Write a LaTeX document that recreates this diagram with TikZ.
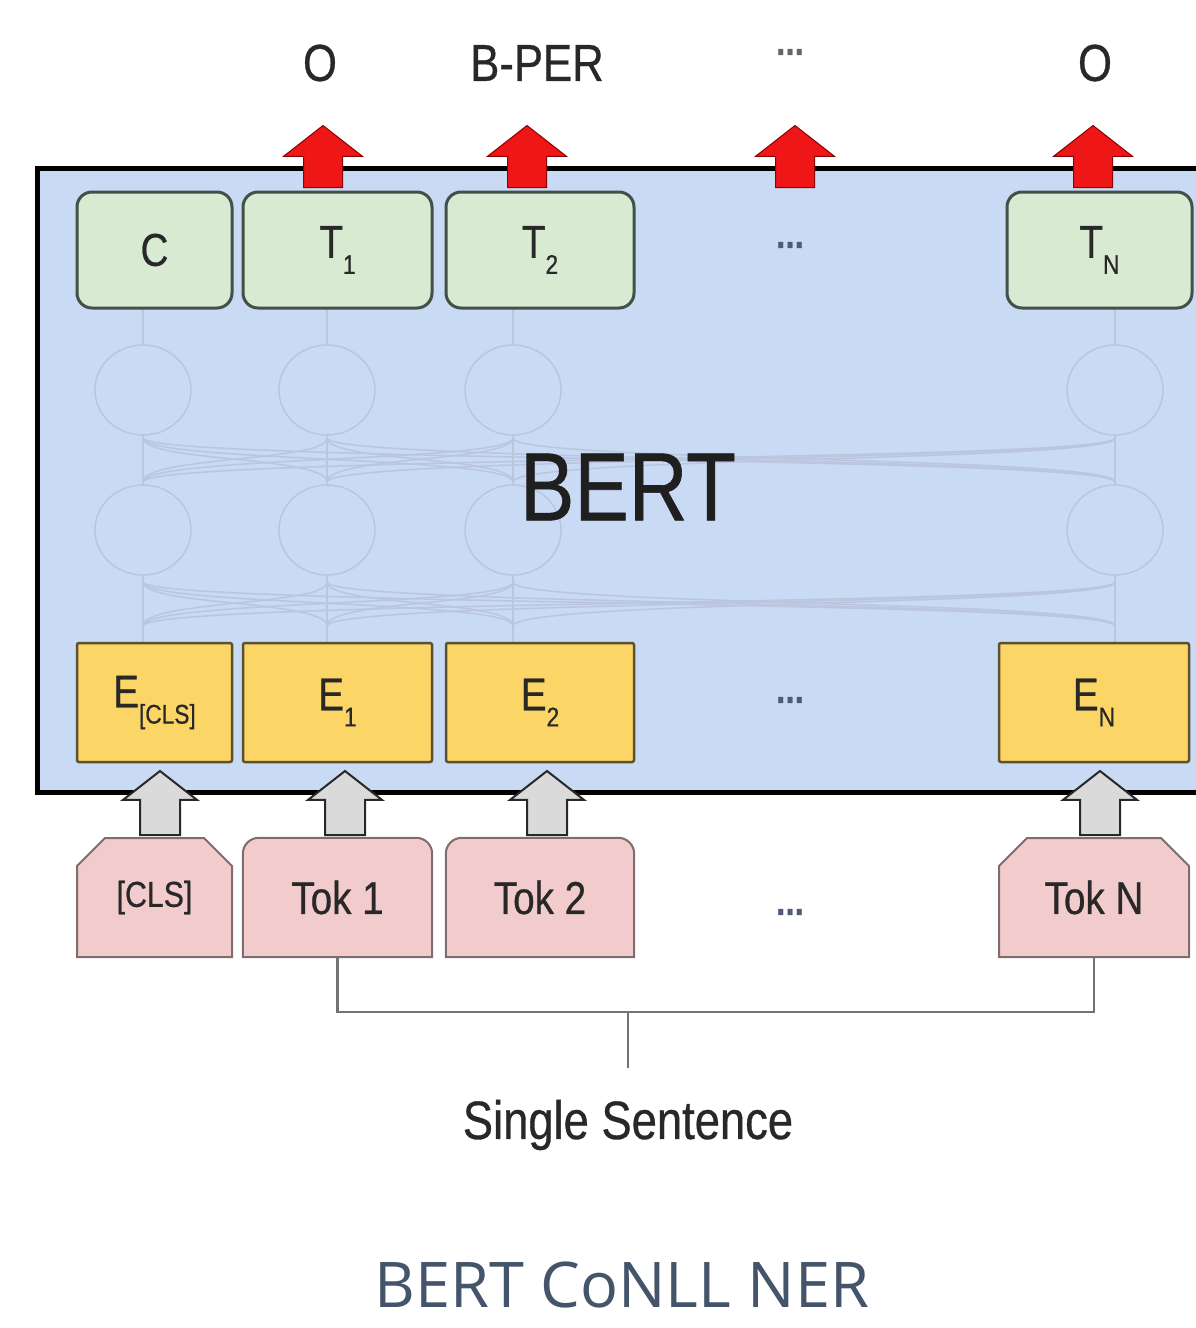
\documentclass[tikz,border=0pt]{standalone}
\usepackage{fontspec}
\setmainfont{Liberation Sans}[FakeStretch=0.84,FakeBold=0.6]
\newfontfamily\captionfont{Open Sans}
\usetikzlibrary{shapes.arrows,shapes.misc,backgrounds}
\definecolor{bertbg}{RGB}{201,218,244}
\definecolor{bertnet}{RGB}{186,198,222}
\definecolor{outfill}{RGB}{217,234,211}
\definecolor{outedge}{RGB}{66,80,72}
\definecolor{embfill}{RGB}{251,214,102}
\definecolor{embedge}{RGB}{92,80,46}
\definecolor{tokfill}{RGB}{242,204,204}
\definecolor{tokedge}{RGB}{128,108,108}
\definecolor{tagred}{RGB}{238,22,22}
\definecolor{ingray}{RGB}{218,218,218}
\definecolor{ink}{RGB}{40,40,40}
\definecolor{dotink}{RGB}{78,90,118}
\definecolor{capink}{RGB}{68,84,106}
\newcommand{\lowsub}[1]{\raisebox{-0.35em}{\fontsize{27}{27}\selectfont #1}}
\tikzset{outbox/.style={draw=outedge,line width=3pt,fill=outfill,rounded corners=15pt,minimum height=116pt,inner sep=0pt,text=ink,font=\fontsize{46}{50}\selectfont},
  embbox/.style={draw=embedge,line width=2.5pt,fill=embfill,rounded corners=2pt,minimum height=119pt,inner sep=0pt,text=ink,font=\fontsize{46}{50}\selectfont},
  tokbox/.style={chamfered rectangle,chamfered rectangle corners={north west,north east},chamfered rectangle sep=14pt,draw=tokedge,line width=2pt,fill=tokfill,minimum height=119pt,inner sep=0pt,text=ink,font=\fontsize{46}{50}\selectfont},
  tokplain/.style={minimum height=119pt,inner sep=0pt,text=ink,font=\fontsize{46}{50}\selectfont},
  tokline/.style={draw=tokedge,line width=2pt,fill=tokfill},
  tagarrow/.style={single arrow,shape border rotate=90,anchor=tail,fill=tagred,draw=red!55!black,line width=1pt,minimum height=62pt,minimum width=78pt,single arrow head extend=20pt,single arrow head indent=0pt,single arrow tip angle=104,inner xsep=19pt,inner ysep=0pt},
  inarrow/.style={single arrow,shape border rotate=90,anchor=tail,fill=ingray,draw=ink,line width=2pt,minimum height=64pt,minimum width=72pt,single arrow head extend=17pt,single arrow head indent=0pt,single arrow tip angle=104,inner xsep=19pt,inner ysep=0pt},
  tag/.style={text=ink,font=\fontsize{52}{56}\selectfont},
  dots/.style={text=dotink,font=\fontsize{40}{40}\selectfont\bfseries},
  net/.style={draw=bertnet,line width=1.5pt},
  brk/.style={draw=black!55,line width=2.5pt}}

\begin{document}
\begin{tikzpicture}[x=1pt,y=-1pt]
\useasboundingbox (0,0) rectangle (1196,1328);
% BERT block
\fill[bertbg] (37,168) rectangle (1196,792);
\foreach \x in {143,327,513,1115} {
  \draw[net] (\x,390) ellipse (48pt and 45pt);
  \draw[net] (\x,530) ellipse (48pt and 45pt);
  \draw[net] (\x,308) -- (\x,345);
  \draw[net] (\x,435) -- (\x,485);
  \draw[net] (\x,575) -- (\x,643);
  \foreach \y in {143,327,513,1115}
    \draw[net] (\x,438) .. controls (\x,462) and (\y,456) .. (\y,482)
               (\x,582) .. controls (\x,606) and (\y,600) .. (\y,626);
}
\node[text=black!88,font=\fontsize{97}{100}\selectfont] (bert) at (628,487) {BERT};
\draw[line width=5pt] (1196,168) -- (37,168) -- (37,792) -- (1196,792);

% output row
\node[outbox,minimum width=155pt] (c) at (154.5,250) {C};
\node[outbox,minimum width=189pt] (t1) at (337.5,250) {T\lowsub{1}};
\node[outbox,minimum width=188pt] (t2) at (540,250) {T\lowsub{2}};
\node[dots] (tdots) at (790,245) {...};
\node[outbox,minimum width=185pt] (tn) at (1099.5,250) {T\lowsub{N}};

% embedding row
\node[embbox,minimum width=155pt] (ecls) at (154.5,702.5) {E\lowsub{[CLS]}};
\node[embbox,minimum width=189pt] (e1) at (337.5,702.5) {E\lowsub{1}};
\node[embbox,minimum width=188pt] (e2) at (540,702.5) {E\lowsub{2}};
\node[dots] (edots) at (790,700) {...};
\node[embbox,minimum width=190pt] (en) at (1094,702.5) {E\lowsub{N}};

% input tokens
\node[tokbox,minimum width=155pt,font=\fontsize{36}{40}\selectfont] (kcls) at (154.5,897.5) {[CLS]};
\node[tokplain,minimum width=189pt] (k1) at (337.5,897.5) {Tok 1};
\node[tokplain,minimum width=188pt] (k2) at (540,897.5) {Tok 2};
\node[dots] (kdots) at (790,912) {...};
\node[tokbox,minimum width=190pt] (kn) at (1094,897.5) {Tok N};
\begin{scope}[on background layer]
\foreach \k in {k1,k2}
  \path[tokline] (\k.south west) -- ([yshift=-16pt]\k.north west)
    arc[start angle=180,end angle=90,radius=16pt] -- ([xshift=-16pt]\k.north east)
    arc[start angle=90,end angle=0,radius=16pt] -- (\k.south east) -- cycle;
\end{scope}

% arrows
\node[tagarrow] (r1) at (323,188) {};
\node[tagarrow] (r2) at (527,188) {};
\node[tagarrow] (r3) at (795,188) {};
\node[tagarrow] (rn) at (1093,188) {};
\node[inarrow] (g0) at (160,836) {};
\node[inarrow] (g1) at (345,836) {};
\node[inarrow] (g2) at (547,836) {};
\node[inarrow] (gn) at (1100,836) {};

% tags
\node[tag] (l1) at (320,63) {O};
\node[tag] (l2) at (537,63) {B-PER};
\node[dots,text=black!60] (l3) at (790,52) {...};
\node[tag] (ln) at (1095,63) {O};

% sentence bracket
\draw[brk] (k1.south) -- ++(0,55) -| (kn.south);
\coordinate (mid) at (628,1012);
\draw[brk] (mid) -- ++(0,56);
\node[text=ink,font=\fontsize{54}{58}\selectfont] (sent) at (628,1125) {Single Sentence};

\node[inner sep=0pt,text=capink,font=\captionfont\fontsize{63}{65}\selectfont] (cap) at (622,1285) {BERT CoNLL NER};
\end{tikzpicture}
\end{document}
